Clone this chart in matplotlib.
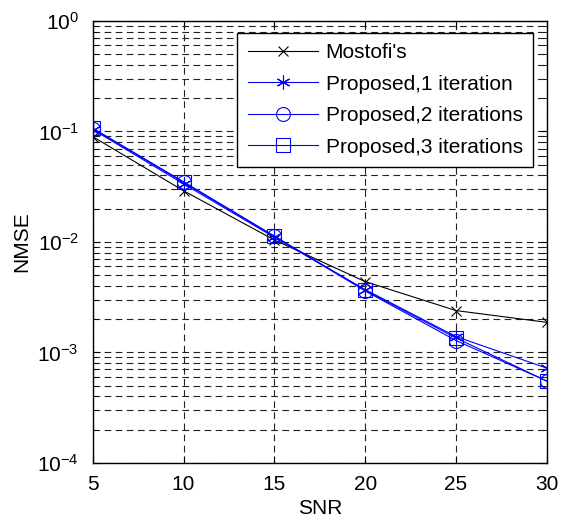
import matplotlib.pyplot as plt
import matplotlib.ticker as mticker

plt.rcParams['font.family'] = ['Liberation Sans', 'DejaVu Sans']
plt.rcParams['mathtext.fontset'] = 'custom'
plt.rcParams['mathtext.rm'] = 'Liberation Sans'
plt.rcParams['mathtext.it'] = 'Liberation Sans:italic'
plt.rcParams['mathtext.bf'] = 'Liberation Sans:bold'

# データ
snr = [5, 10, 15, 20, 25, 30]
mostofi = [0.0897, 0.0290, 0.0104, 0.00437, 0.00239, 0.00187]
prop_1 = [0.104, 0.0335, 0.0110, 0.00370, 0.00139, 0.00072]
prop_2 = [0.106, 0.0345, 0.0112, 0.00360, 0.00128, 0.00055]
prop_3 = [0.107, 0.0350, 0.0113, 0.00365, 0.00135, 0.00055]
labels = ["Mostofi's", 'Proposed,1 iteration', 'Proposed,2 iterations', 'Proposed,3 iterations']

fs = 15

fig = plt.figure(figsize=(5.69, 5.23), dpi=100)
ax = fig.add_axes([0.163, 0.115, 0.798, 0.845])

ax.plot(snr, mostofi, color='black', lw=0.8, marker='x', ms=7, mew=0.8, label=labels[0])
ax.plot(snr, prop_1, color='blue', lw=0.8, marker=(6, 2, 0), ms=10, mew=0.8, label=labels[1])
ax.plot(snr, prop_2, color='blue', lw=0.8, marker='o', ms=10, mfc='none', mew=0.8, label=labels[2])
ax.plot(snr, prop_3, color='blue', lw=0.8, marker='s', ms=10, mfc='none', mew=0.8, label=labels[3])

ax.set_yscale('log')
ax.set_xlim(5, 30)
ax.set_ylim(1e-4, 1)
ax.set_xticks(snr)
ax.yaxis.set_major_locator(mticker.LogLocator(base=10, numticks=10))
ax.yaxis.set_minor_locator(mticker.LogLocator(base=10, subs=range(2, 10), numticks=10))
ax.yaxis.set_minor_formatter(mticker.NullFormatter())

# グリッド (MATLAB風)
grid_kw = dict(color='#222222', lw=0.8, linestyle=(0, (6, 4)))
ax.grid(True, which='major', axis='both', **grid_kw)
ax.grid(True, which='minor', axis='y', **grid_kw)

ax.tick_params(which='both', direction='in', top=True, right=True, labelsize=fs)
ax.tick_params(which='major', length=5)
ax.tick_params(which='minor', length=3)
ax.tick_params(axis='x', pad=9)
ax.tick_params(axis='y', pad=10)
for s in ax.spines.values():
    s.set_linewidth(1.0)

ax.set_xlabel('SNR', fontsize=fs, labelpad=3)
ax.set_ylabel('NMSE', fontsize=fs, labelpad=4)

leg = ax.legend(loc='upper right', bbox_to_anchor=(0.97, 0.973), borderaxespad=0,
                fontsize=fs, fancybox=False, edgecolor='black', framealpha=1,
                handlelength=3.4, handletextpad=0.35, labelspacing=0.6, borderpad=0.5)
leg.get_frame().set_linewidth(1.0)

plt.savefig('out.png', dpi=100)
plt.close()
